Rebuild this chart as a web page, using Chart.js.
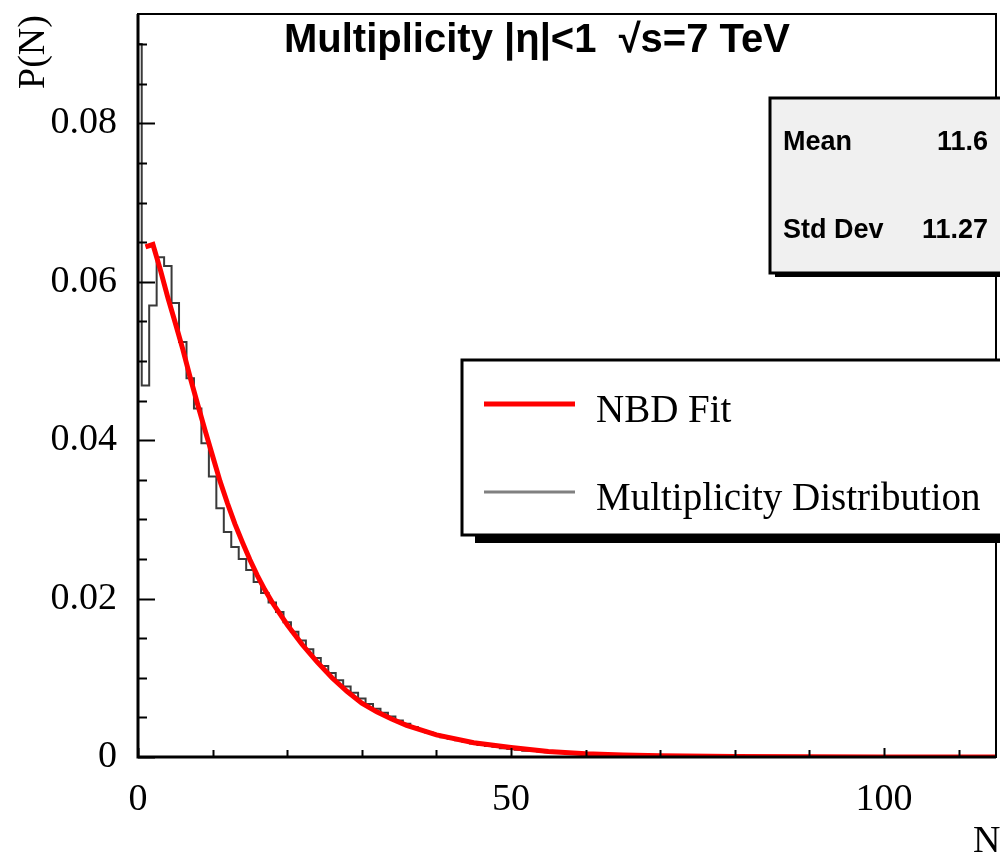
<!DOCTYPE html>
<html>
<head>
<meta charset="utf-8">
<script src="https://cdn.jsdelivr.net/npm/chart.js@4.4.0/dist/chart.umd.min.js"></script>
<style>
  html, body { margin: 0; padding: 0; background: #fff; }
</style>
</head>
<body>
<canvas id="multChart" width="1000" height="852"></canvas>
<script>
// histogram: bin centres N and normalised counts P(N)
const histN = [
  0, 1, 2, 3, 4, 5, 6, 7, 8, 9, 10, 11, 12, 13, 14, 15, 16, 17, 18, 19,
  20, 21, 22, 23, 24, 25, 26, 27, 28, 29, 30, 31, 32, 33, 34, 35, 36, 37, 38, 39,
  40, 41, 42, 43, 44, 45, 46, 47, 48, 49, 50, 51, 52, 53, 54, 55, 56, 57, 58, 59,
  60, 61, 62, 63, 64, 65, 66, 67, 68, 69, 70, 71, 72, 73, 74, 75, 76, 77, 78, 79,
  80, 85, 90, 95, 100, 105, 110, 115
];
const histP = [
  0.0900, 0.0469, 0.0570, 0.0631, 0.0620, 0.0573, 0.0524, 0.0478, 0.0440, 0.0396,
  0.0354, 0.0314, 0.0284, 0.0265, 0.0250, 0.0236, 0.0221, 0.0207, 0.0195, 0.0183,
  0.0170, 0.0158, 0.0147, 0.0136, 0.0125, 0.0115, 0.0106, 0.0097, 0.0089, 0.0081,
  0.0074, 0.0067, 0.0061, 0.0056, 0.0051, 0.0046, 0.0042, 0.0038, 0.0034, 0.0031,
  0.0028, 0.0025, 0.0023, 0.0021, 0.0019, 0.0017, 0.0015, 0.0014, 0.0013, 0.0011,
  0.0010, 0.0009, 0.0008, 0.0008, 0.0007, 0.0006, 0.0005, 0.0005, 0.0004, 0.0004,
  0.0003, 0.0003, 0.0003, 0.0002, 0.0002, 0.0002, 0.0002, 0.0001, 0.0001, 0.0001,
  0.0001, 0.0001, 0.0001, 0.0001, 0.0001, 0, 0, 0, 0, 0,
  0, 0, 0, 0, 0, 0, 0, 0
];

// NBD fit curve
const fitN = [1, 2, 3, 4, 5, 6, 7, 8, 9, 10, 11, 12, 13, 14, 15, 16, 17, 18, 19, 20,
  22, 24, 26, 28, 30, 32, 34, 36, 38, 40, 45, 50, 55, 60, 65, 70, 80, 90, 100, 115];
const fitP = [0.0644, 0.0647, 0.0615, 0.0580, 0.0548, 0.0515, 0.0479, 0.0445, 0.0412, 0.0380,
  0.0348, 0.0320, 0.0294, 0.0271, 0.0249, 0.0229, 0.0211, 0.0195, 0.0181, 0.0167,
  0.0142, 0.0120, 0.0100, 0.0083, 0.0068, 0.0057, 0.0048, 0.0040, 0.0034, 0.0028,
  0.0018, 0.0012, 0.0007, 0.0004, 0.00025, 0.00015, 0.00006, 0.00002, 0.00001, 0];

// axes
const xTicks = [0, 50, 100];
const xTickMarks = [0, 10, 20, 30, 40, 50, 60, 70, 80, 90, 100, 110];
const yTicks = [0, 0.02, 0.04, 0.06, 0.08];
const yTickLabels = ["0", "0.02", "0.04", "0.06", "0.08"];
const yTickMarks = [0, 0.005, 0.01, 0.015, 0.02, 0.025, 0.03, 0.035, 0.04, 0.045,
  0.05, 0.055, 0.06, 0.065, 0.07, 0.075, 0.08, 0.085, 0.09];

const stats = [["Mean", "11.6"], ["Std Dev", "11.27"]];
const legendItems = [
  { text: "NBD Fit", color: "#ff0000", width: 5 },
  { text: "Multiplicity Distribution", color: "#808080", width: 3 }
];

const serif = '"Liberation Serif", "Times New Roman", serif';
const sans = '"Liberation Sans", Arial, sans-serif';

// ROOT-like frame, inner ticks, title, stats box and legend
const rootDecor = {
  id: "rootDecor",
  afterDraw(chart) {
    const { ctx, chartArea: a, scales: { x, y } } = chart;
    ctx.save();
    ctx.strokeStyle = "#000";

    // inner tick marks
    ctx.lineWidth = 2;
    yTickMarks.forEach(v => {
      const py = Math.round(y.getPixelForValue(v)) + 0.5;
      const len = yTicks.includes(v) ? 17 : 9;
      ctx.beginPath(); ctx.moveTo(a.left, py); ctx.lineTo(a.left + len, py); ctx.stroke();
    });
    xTickMarks.forEach(v => {
      const px = Math.round(x.getPixelForValue(v)) + 0.5;
      const len = xTicks.includes(v) ? 9 : 7;
      ctx.beginPath(); ctx.moveTo(px, a.bottom); ctx.lineTo(px, a.bottom - len); ctx.stroke();
    });

    // frame
    ctx.lineWidth = 2;
    ctx.strokeRect(a.left, a.top, a.right - a.left, a.bottom - a.top);
    ctx.lineWidth = 3;
    ctx.beginPath();
    ctx.moveTo(a.left, a.top); ctx.lineTo(a.left, a.bottom); ctx.lineTo(a.right, a.bottom);
    ctx.stroke();

    // axis titles
    ctx.fillStyle = "#000";
    ctx.font = "38px " + serif;
    ctx.save();
    ctx.translate(34, 89);
    ctx.rotate(-Math.PI / 2);
    ctx.textAlign = "left";
    ctx.textBaseline = "middle";
    ctx.fillText("P(N)", 0, 0);
    ctx.restore();
    ctx.textAlign = "left";
    ctx.textBaseline = "alphabetic";
    ctx.fillText("N", 973, 852);

    // title
    ctx.font = "bold 40px " + sans;
    ctx.fillText("Multiplicity |η|<1  √s=7 TeV", 284, 52);

    // stats box
    ctx.fillStyle = "#000";
    ctx.fillRect(775, 104, 240, 173);
    ctx.fillStyle = "#f0f0f0";
    ctx.fillRect(770, 98, 240, 175);
    ctx.lineWidth = 3;
    ctx.strokeRect(770, 98, 240, 175);
    ctx.fillStyle = "#000";
    ctx.font = "bold 27px " + sans;
    stats.forEach((s, i) => {
      const by = 150 + i * 88;
      ctx.textAlign = "left";
      ctx.fillText(s[0], 783, by);
      ctx.textAlign = "right";
      ctx.fillText(s[1], 988, by);
    });

    // legend box
    ctx.fillRect(475, 366, 560, 177);
    ctx.fillStyle = "#fff";
    ctx.fillRect(462, 360, 560, 175);
    ctx.lineWidth = 3;
    ctx.strokeRect(462, 360, 560, 175);
    ctx.font = "39px " + serif;
    ctx.textAlign = "left";
    legendItems.forEach((it, i) => {
      const ly = 404 + i * 88;
      ctx.strokeStyle = it.color;
      ctx.lineWidth = it.width;
      ctx.beginPath(); ctx.moveTo(484, ly); ctx.lineTo(575, ly); ctx.stroke();
      ctx.fillStyle = "#000";
      ctx.fillText(it.text, 596, ly + 18);
    });
    ctx.restore();
  }
};

const ctx = document.querySelector("#multChart").getContext("2d");

const data = {
  datasets: [
    {
      label: "NBD Fit",
      data: fitN.map((n, i) => ({ x: n, y: fitP[i] })),
      borderColor: "#ff0000",
      borderWidth: 5,
      pointRadius: 0,
      tension: 0,
      order: 0,
    },
    {
      label: "Multiplicity Distribution",
      data: histN.map((n, i) => ({ x: n, y: histP[i] })),
      borderColor: "#3a3a3a",
      borderWidth: 2,
      pointRadius: 0,
      stepped: "middle",
      order: 1,
    },
  ],
};

const config = {
  type: "line",
  data: data,
  options: {
    responsive: false,
    animation: false,
    layout: { padding: { top: 14, right: 4, left: 0, bottom: 0 } },
    plugins: { legend: { display: false }, title: { display: false }, tooltip: { enabled: false } },
    scales: {
      x: {
        type: "linear",
        min: 0,
        max: 115,
        grid: { display: false },
        border: { display: false },
        afterBuildTicks: s => { s.ticks = xTicks.map(v => ({ value: v })); },
        afterFit: s => { s.height = 95; s.paddingLeft = 0; s.paddingRight = 0; },
        ticks: {
          color: "#000",
          padding: 12,
          maxRotation: 0,
          font: { family: serif, size: 38 },
          callback: v => String(v),
        },
      },
      y: {
        type: "linear",
        min: 0,
        max: 0.0938,
        grid: { display: false },
        border: { display: false },
        afterBuildTicks: s => { s.ticks = yTicks.map(v => ({ value: v })); },
        afterFit: s => { s.width = 138; s.paddingTop = 0; s.paddingBottom = 0; },
        ticks: {
          color: "#000",
          padding: 13,
          font: { family: serif, size: 38 },
          callback: v => yTickLabels[yTicks.indexOf(v)] ?? "",
        },
      },
    },
  },
  plugins: [rootDecor],
};

const multChart = new Chart(ctx, config);
</script>
</body>
</html>
